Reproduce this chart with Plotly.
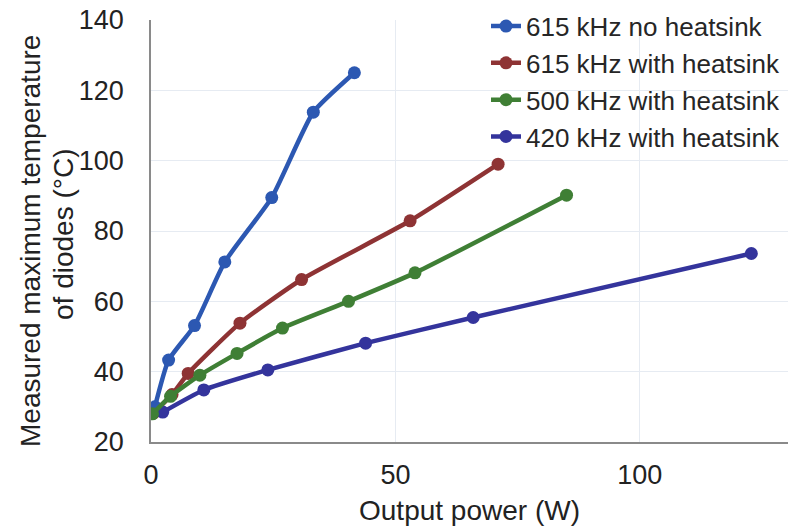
import plotly.graph_objects as go

x_615_no = [0.8, 3.6, 8.9, 15.1, 24.7, 33.2, 41.6]
y_615_no = [30.0, 43.3, 53.1, 71.2, 89.5, 113.8, 125.0]

x_615_hs = [0.5, 4.3, 7.6, 18.2, 30.8, 53.0, 71.0]
y_615_hs = [28.2, 33.5, 39.5, 53.8, 66.2, 82.9, 99.0]

x_500_hs = [0.3, 4.0, 10.0, 17.6, 26.9, 40.4, 54.0, 85.0]
y_500_hs = [28.0, 33.0, 39.0, 45.2, 52.4, 60.0, 68.1, 90.2]

x_420_hs = [2.4, 10.8, 23.9, 43.9, 65.9, 122.8]
y_420_hs = [28.5, 34.8, 40.5, 48.1, 55.4, 73.6]

names = ["615 kHz no heatsink", "615 kHz with heatsink",
         "500 kHz with heatsink", "420 kHz with heatsink"]
colors = ["#2C58B2", "#8E3334", "#3F7F35", "#34349C"]
series = [(x_615_no, y_615_no), (x_615_hs, y_615_hs),
          (x_500_hs, y_500_hs), (x_420_hs, y_420_hs)]

y_title_lines = ["Measured maximum temperature", "of diodes (°C)"]

fig = go.Figure()
order = [1, 0, 3, 2]
traces = {}
for i, (xs, ys) in enumerate(series):
    traces[i] = go.Scatter(
        x=xs, y=ys, name=names[i], mode="lines+markers",
        line=dict(color=colors[i], width=4.5, shape="spline", smoothing=0.5),
        marker=dict(color=colors[i], size=13),
        legendgroup=f"g{i}", legendrank=i + 1,
    )
for i in order:
    fig.add_trace(traces[i])

font_family = "Liberation Sans, Arial, sans-serif"
fig.update_layout(
    width=788, height=532,
    margin=dict(l=151, r=0, t=20, b=90, autoexpand=False),
    paper_bgcolor="white", plot_bgcolor="white",
    font=dict(family=font_family, color="#222222", size=26),
    showlegend=True,
    legend=dict(
        xref="container", yref="container",
        x=486 / 788, y=0.995, xanchor="left", yanchor="top",
        bgcolor="rgba(0,0,0,0)", font=dict(size=26, color="#262626"),
        tracegroupgap=0, itemwidth=30,
    ),
    xaxis=dict(
        range=[0, 130.3], tickvals=[0, 50, 100], ticks="",
        showline=True, linecolor="#8a8a8a", linewidth=1.5,
        showgrid=True, gridcolor="#e6ebf2", gridwidth=1,
        zeroline=False, tickfont=dict(size=27),
        ticklabelstandoff=8,
        title=dict(text="Output power (W)", font=dict(size=28), standoff=11),
    ),
    yaxis=dict(
        range=[20, 140], tickvals=[20, 40, 60, 80, 100, 120, 140], ticks="",
        showline=True, linecolor="#8a8a8a", linewidth=1.5,
        showgrid=True, gridcolor="#e6ebf2", gridwidth=1,
        zeroline=False, tickfont=dict(size=27),
        ticklabelstandoff=20,
    ),
    annotations=[
        dict(text=y_title_lines[0], xref="paper", yref="paper",
             x=-(151 - 30) / 637, y=(442 - 241) / 422,
             xanchor="center", yanchor="middle", textangle=-90,
             showarrow=False, font=dict(size=28, color="#222222")),
        dict(text=y_title_lines[1], xref="paper", yref="paper",
             x=-(151 - 63) / 637, y=(442 - 234) / 422,
             xanchor="center", yanchor="middle", textangle=-90,
             showarrow=False, font=dict(size=28, color="#222222")),
    ],
)

fig.write_html("out.html")
